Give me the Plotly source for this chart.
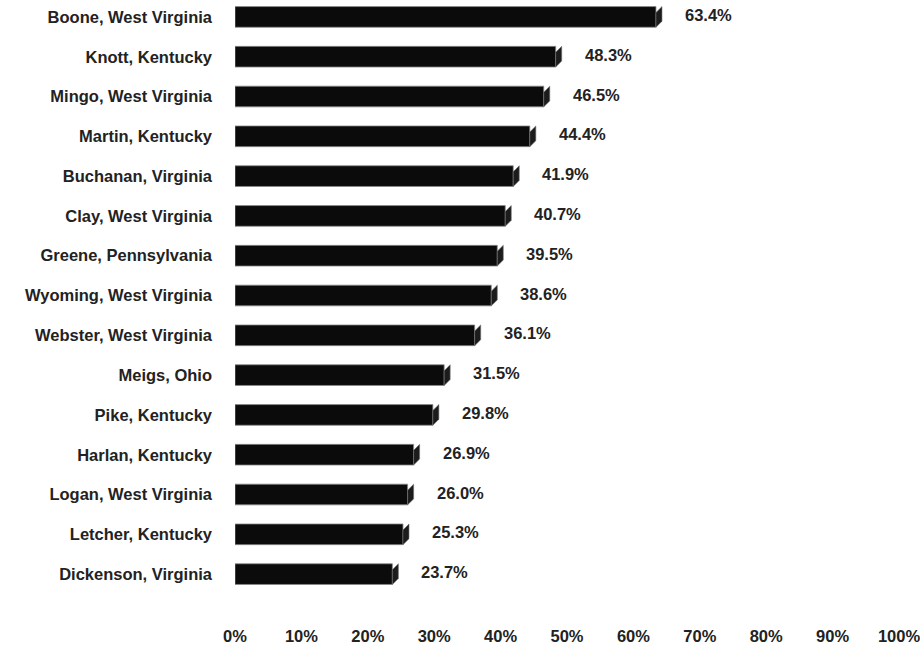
import plotly.graph_objects as go

counties = ["Boone, West Virginia", "Knott, Kentucky", "Mingo, West Virginia", "Martin, Kentucky",
            "Buchanan, Virginia", "Clay, West Virginia", "Greene, Pennsylvania", "Wyoming, West Virginia",
            "Webster, West Virginia", "Meigs, Ohio", "Pike, Kentucky", "Harlan, Kentucky",
            "Logan, West Virginia", "Letcher, Kentucky", "Dickenson, Virginia"]
values = [63.4, 48.3, 46.5, 44.4, 41.9, 40.7, 39.5, 38.6, 36.1, 31.5, 29.8, 26.9, 26.0, 25.3, 23.7]
tick_vals = [0, 10, 20, 30, 40, 50, 60, 70, 80, 90, 100]
tick_text = [f"{t}%" for t in tick_vals]

W, H = 920, 645
ML, MR, MT, MB = 235, 21, 0, 45
X_MAX = 100.0
plot_w = W - ML - MR
plot_h = H - MT - MB
px_per_x = plot_w / X_MAX
px_per_row = plot_h / 15.0
bar_w = 0.52
depth_px = 6
dx = depth_px / px_per_x
dy = depth_px / px_per_row

FONT = "Liberation Sans, Arial, sans-serif"
TXT = "#222222"
FS = 16.5

idx = list(range(len(counties)))
fig = go.Figure()
fig.add_trace(go.Bar(
    x=values, y=idx, orientation="h", width=bar_w,
    marker=dict(color="#0b0b0b", line=dict(color="#8a8a8a", width=0.8)),
    hoverinfo="x+y", showlegend=False,
))

shapes = []
for i, v in zip(idx, values):
    top = i - bar_w / 2
    bot = i + bar_w / 2
    path = (f"M {v},{top + dy} L {v + dx},{top} L {v + dx},{bot - dy} L {v},{bot} Z")
    shapes.append(dict(type="path", path=path, xref="x", yref="y",
                       fillcolor="#1c1c1c", line=dict(color="#707070", width=0.6), layer="above"))

annotations = []
for i, v in zip(idx, values):
    annotations.append(dict(x=v, y=i, xref="x", yref="y", text=f"{v:.1f}%", showarrow=False,
                            xanchor="left", yanchor="middle", xshift=27, yshift=2,
                            font=dict(family=FONT, size=FS, color=TXT, weight="bold")))

fig.update_layout(
    width=W, height=H,
    margin=dict(l=ML, r=MR, t=MT, b=MB),
    plot_bgcolor="white", paper_bgcolor="white",
    shapes=shapes, annotations=annotations,
    font=dict(family=FONT, size=FS, color=TXT),
    xaxis=dict(range=[0, X_MAX], tickvals=tick_vals, ticktext=tick_text, showgrid=False,
               zeroline=False, showline=False, ticks="", ticklabelstandoff=27,
               ticklabeloverflow="allow",
               tickfont=dict(family=FONT, size=FS, color=TXT, weight="bold"),
               fixedrange=True),
    yaxis=dict(range=[14.575, -0.425], tickvals=idx, ticktext=counties, showgrid=False,
               zeroline=False, showline=False, ticks="", ticklabelstandoff=22,
               tickfont=dict(family=FONT, size=FS, color=TXT, weight="bold"),
               fixedrange=True),
)

fig.write_html("out.html", config={"displayModeBar": False},
               post_script="document.body.style.margin='0';document.body.style.padding='0';")
